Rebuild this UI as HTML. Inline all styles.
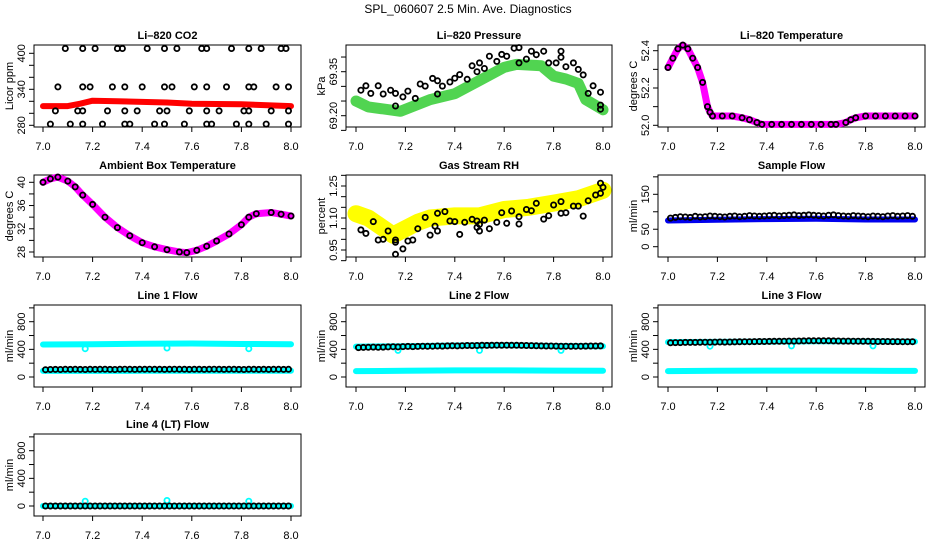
<!DOCTYPE html>
<html><head><meta charset="utf-8"><style>
html,body{margin:0;padding:0;background:#fff}
svg{display:block;font-family:"Liberation Sans",Arial,sans-serif}
</style></head><body>
<svg id="chart" width="936" height="540" viewBox="0 0 936 540">
<text x="468" y="13" text-anchor="middle" font-size="12">SPL_060607  2.5 Min. Ave. Diagnostics</text>
</svg>
<script>
// ---- data ----
const xTicks = [7.0, 7.2, 7.4, 7.6, 7.8, 8.0];
const xTickLabels = ["7.0", "7.2", "7.4", "7.6", "7.8", "8.0"];
const t50 = [7.01,7.03,7.05,7.07,7.09,7.11,7.13,7.15,7.17,7.19,7.21,7.23,7.25,7.27,7.29,7.31,7.33,7.35,7.37,7.39,7.41,7.43,7.45,7.47,7.49,7.51,7.53,7.55,7.57,7.59,7.61,7.63,7.65,7.67,7.69,7.71,7.73,7.75,7.77,7.79,7.81,7.83,7.85,7.87,7.89,7.91,7.93,7.95,7.97,7.99];

// CO2
const co2BandX = [7.0, 7.1, 7.15, 7.2, 7.3, 7.5, 7.6, 7.8, 8.0];
const co2BandY = [312, 312, 316, 321, 320, 318, 316, 315, 312];
const co2PtX = [7.09,7.16,7.21,7.30,7.32,7.42,7.49,7.54,7.64,7.66,7.76,7.83,7.88,7.96,7.98,
 7.06,7.16,7.19,7.28,7.33,7.40,7.49,7.52,7.61,7.66,7.74,7.83,7.85,7.94,7.99,
 7.05,7.14,7.16,7.26,7.33,7.38,7.47,7.50,7.59,7.66,7.71,7.81,7.83,7.92,7.99,
 7.03,7.11,7.16,7.24,7.33,7.35,7.45,7.49,7.57,7.66,7.68,7.78,7.83,7.90,7.99];
const co2PtY = [408,408,408,408,408,408,408,408,408,408,408,408,408,408,408,
 344,344,344,344,344,344,344,344,344,344,344,344,344,344,344,
 304,304,304,304,304,304,304,304,304,304,304,304,304,304,304,
 282,282,282,282,282,282,282,282,282,282,282,282,282,282,282];

// Pressure
const presBandX = [7.0, 7.05, 7.18, 7.3, 7.4, 7.5, 7.6, 7.65, 7.75, 7.8, 7.85, 7.9, 7.93, 8.0];
const presBandY = [69.25, 69.23, 69.215, 69.255, 69.275, 69.32, 69.365, 69.375, 69.37, 69.335, 69.325, 69.31, 69.255, 69.22];
const presPtX = [7.02,7.04,7.06,7.09,7.11,7.14,7.16,7.16,7.19,7.21,7.24,7.26,7.28,7.31,7.33,7.33,7.35,7.38,7.40,7.42,7.45,7.47,7.49,7.50,7.52,7.54,7.57,7.59,7.61,7.64,7.66,7.66,7.69,7.71,7.73,7.76,7.78,7.81,7.83,7.83,7.85,7.88,7.90,7.92,7.94,7.96,7.99,7.99,7.99];
const presPtY = [69.287,69.302,69.276,69.302,69.274,69.287,69.276,69.233,69.264,69.284,69.259,69.308,69.301,69.327,69.319,69.274,69.301,69.315,69.328,69.34,69.324,69.37,69.35,69.38,69.361,69.403,69.385,69.409,69.403,69.43,69.432,69.38,69.393,69.42,69.408,69.42,69.38,69.38,69.42,69.399,69.367,69.38,69.358,69.339,69.276,69.302,69.28,69.236,69.222];

// Li-820 temperature
const tempX = [7.0,7.02,7.04,7.06,7.08,7.1,7.12,7.14,7.16,7.17,7.18,7.22,7.26,7.3,7.33,7.36,7.38,7.42,7.46,7.5,7.54,7.58,7.62,7.66,7.68,7.72,7.74,7.76,7.8,7.84,7.88,7.92,7.96,8.0];
const tempY = [52.31,52.36,52.41,52.43,52.41,52.36,52.31,52.23,52.1,52.07,52.05,52.05,52.05,52.04,52.03,52.015,52.005,52.005,52.005,52.005,52.005,52.005,52.005,52.005,52.005,52.015,52.03,52.04,52.05,52.05,52.05,52.05,52.05,52.05];

// Ambient box temperature
const ambX = [7.0,7.03,7.06,7.1,7.13,7.16,7.2,7.25,7.3,7.35,7.4,7.45,7.5,7.55,7.58,7.62,7.66,7.7,7.75,7.8,7.83,7.86,7.92,7.96,8.0];
const ambY = [40.0,40.6,40.9,40.2,39.2,37.8,36.2,34.0,32.2,30.8,29.6,28.9,28.4,28.0,27.9,28.3,29.0,29.9,31.1,32.7,34.0,34.6,34.8,34.5,34.2];

// Gas stream RH
const rhBandX = [7.0,7.05,7.1,7.15,7.2,7.25,7.3,7.4,7.5,7.6,7.7,7.8,7.9,8.0];
const rhBandY = [1.12,1.10,1.06,1.02,1.05,1.08,1.10,1.11,1.11,1.14,1.15,1.17,1.19,1.23];
const rhPtX = [7.02,7.04,7.07,7.09,7.11,7.13,7.16,7.16,7.16,7.19,7.21,7.23,7.25,7.28,7.30,7.32,7.33,7.33,7.36,7.38,7.40,7.42,7.44,7.47,7.49,7.49,7.50,7.50,7.52,7.54,7.57,7.59,7.61,7.63,7.66,7.66,7.69,7.71,7.73,7.76,7.78,7.80,7.83,7.83,7.85,7.88,7.90,7.92,7.94,7.97,7.99,7.99,8.0];
const rhPtY = [1.044,1.028,1.083,0.997,1.0,1.039,0.997,0.986,0.93,0.955,0.992,0.997,1.05,1.103,1.02,1.062,1.039,1.122,1.13,1.086,1.083,1.023,1.08,1.094,1.086,1.056,1.039,1.07,1.09,1.05,1.08,1.125,1.075,1.133,1.106,1.072,1.14,1.134,1.169,1.095,1.111,1.161,1.177,1.122,1.125,1.156,1.156,1.109,1.181,1.208,1.263,1.216,1.244];

// Sample flow
const sfBandX = [7.0, 7.2, 7.4, 7.6, 7.8, 8.0];
const sfBandY = [75, 77, 79, 80, 78, 78];
const sfBlack = [82,84,86,85,84,87,85,86,88,87,86,85,87,88,86,87,89,88,87,88,89,90,88,89,90,91,89,90,91,90,89,88,90,91,89,88,87,89,88,87,86,88,87,86,88,89,87,88,89,87];

// Line flows
const flowBandX = [7.0, 7.2, 7.4, 7.6, 7.8, 8.0];
const l1High = [470, 475, 480, 485, 478, 475];
const l1Low = [88, 88, 90, 90, 90, 90];
const l1Black = [105,108,110,109,111,110,112,110,109,111,110,112,111,110,109,111,113,112,110,111,112,113,112,111,110,112,113,112,111,110,112,111,110,112,113,111,110,112,111,110,109,111,112,110,111,110,112,111,110,111];
const l2High = [440, 445, 455, 460, 448, 445];
const l2Low = [85, 90, 95, 95, 92, 90];
const l2Black = [425,428,430,432,430,433,435,438,436,440,442,440,443,445,444,446,448,447,450,452,450,453,455,454,456,458,457,459,460,458,460,459,458,457,455,454,452,450,449,448,447,446,445,444,445,446,447,448,449,450];
const l3High = [505, 508, 512, 518, 515, 512];
const l3Low = [85, 90, 92, 92, 90, 88];
const l3Black = [495,497,498,500,501,500,502,503,504,505,506,505,507,508,509,510,511,512,513,514,515,516,517,518,519,520,521,522,523,523,524,524,523,522,521,520,519,518,518,517,516,515,514,514,513,512,512,511,510,510];
const l4Low = [0, 0, 0, 0, 0, 0];
const l4Black = [0,0,0,0,0,0,0,0,0,0,0,0,0,0,0,0,0,0,0,0,0,0,0,0,0,0,0,0,0,0,0,0,0,0,0,0,0,0,0,0,0,0,0,0,0,0,0,0,0,0];
const dipX = [7.17, 7.5, 7.83];
const l1Dip = [410, 420, 410];
const l2Dip = [385, 385, 385];
const l3Dip = [445, 450, 450];
const l4Spike = [70, 80, 70];

// ---- layout ----
const NS = "http://www.w3.org/2000/svg";
const svg = document.getElementById("chart");
const colLeft = [34, 346, 658], colRight = [301, 612, 925];
const colX0 = [43, 356, 668], colX1 = [291, 603, 915];
const rowTop = [45, 175, 305, 434];
const BOXH = 82;

function el(tag, attrs, parent) {
  const e = document.createElementNS(NS, tag);
  for (const k in attrs) e.setAttribute(k, attrs[k]);
  (parent || svg).appendChild(e);
  return e;
}

function makePanel(cfg) {
  const g = el("g", {});
  
  
  const L = colLeft[cfg.col], R = colRight[cfg.col], T = rowTop[cfg.row], B = T + BOXH;
  const x0 = colX0[cfg.col], x1 = colX1[cfg.col];
  const sx = v => x0 + (v - 7.0) / 1.0 * (x1 - x0);
  const sy = v => T + cfg.p0 + (v - cfg.v0) / (cfg.v1 - cfg.v0) * (cfg.p1 - cfg.p0);
  const box = el("rect", {x: L, y: T, width: R - L, height: BOXH, fill: "none", stroke: "#000", "stroke-width": 1}, g);
  
  
  const title = el("text", {x: (L + R) / 2, y: T - 6, "text-anchor": "middle", "font-size": 11, "font-weight": "bold"}, g);
  title.textContent = cfg.title;
  
  
  const xa = el("g", {}, g);
  
  
  el("line", {x1: sx(xTicks[0]), x2: sx(xTicks[xTicks.length - 1]), y1: B, y2: B, stroke: "#000"}, xa);
  xTicks.forEach((v, i) => {
    el("line", {x1: sx(v), x2: sx(v), y1: B, y2: B + 5, stroke: "#000"}, xa);
    const t = el("text", {x: sx(v), y: B + 23, "text-anchor": "middle", "font-size": 11}, xa);
    t.textContent = xTickLabels[i];
    
    
  });
  const ya = el("g", {}, g);
  
  
  const yt = cfg.ticks;
  el("line", {x1: L, x2: L, y1: sy(yt[0]), y2: sy(yt[yt.length - 1]), stroke: "#000"}, ya);
  yt.forEach(v => {
    el("line", {x1: L - 5, x2: L, y1: sy(v), y2: sy(v), stroke: "#000"}, ya);
  });
  cfg.labels.forEach((lab, i) => {
    const y = sy(cfg.labelVals[i]);
    const t = el("text", {x: 0, y: 0, "text-anchor": "middle", "font-size": 11, transform: `translate(${L - 9},${y}) rotate(-90)`}, ya);
    t.textContent = lab;
    
    
  });
  const yl = el("text", {x: 0, y: 0, "text-anchor": "middle", "font-size": 11, transform: `translate(${L - 21},${T + BOXH / 2}) rotate(-90)`}, g);
  yl.textContent = cfg.ylab;
  
  
  return {g, sx, sy};
}

function band(p, xs, ys, color, w, name, op) {
  const pts = xs.map((x, i) => p.sx(x).toFixed(1) + "," + p.sy(ys[i]).toFixed(1)).join(" ");
  const pl = el("polyline", {points: pts, fill: "none", stroke: color, "stroke-width": w, "stroke-linecap": "round", "stroke-linejoin": "round", "stroke-opacity": op || 1}, p.g);
  
  
}
function points(p, xs, ys, color, name, r) {
  const gg = el("g", {}, p.g);
  
  
  xs.forEach((x, i) => {
    const c = el("circle", {cx: p.sx(x).toFixed(1), cy: p.sy(ys[i]).toFixed(1), r: r || 2.6, fill: "none", stroke: color, "stroke-width": 1.8}, gg);
    
    
  });
}

let p = makePanel({name: "co2-panel", col: 0, row: 0, title: "Li\u2013820 CO2", ylab: "Licor ppm", v0: 280, p0: 80.3, v1: 400, p1: 8.3,
  ticks: [280, 300, 320, 340, 360, 380, 400], labels: ["280", "340", "400"], labelVals: [280, 340, 400]});
band(p, co2BandX, co2BandY, "#ff0000", 6, "co2-band");
points(p, co2PtX, co2PtY, "#000", "co2-points");

p = makePanel({name: "pressure-panel", col: 1, row: 0, title: "Li\u2013820 Pressure", ylab: "kPa", v0: 69.20, p0: 70.7, v1: 69.35, p1: 26.7,
  ticks: [69.15, 69.20, 69.25, 69.30, 69.35, 69.40], labels: ["69.20", "69.35"], labelVals: [69.20, 69.35]});
band(p, presBandX, presBandY, "#33cc33", 11, "pressure-band", 0.85);
points(p, presPtX, presPtY, "#000", "pressure-points");

p = makePanel({name: "li820-temp-panel", col: 2, row: 0, title: "Li\u2013820 Temperature", ylab: "degrees C", v0: 52.0, p0: 80.3, v1: 52.4, p1: 5.7,
  ticks: [52.0, 52.1, 52.2, 52.3, 52.4], labels: ["52.0", "52.2", "52.4"], labelVals: [52.0, 52.2, 52.4]});
band(p, tempX, tempY, "#ff00ff", 7, "temp-band");
points(p, tempX, tempY, "#000", "temp-points");

p = makePanel({name: "ambient-temp-panel", col: 0, row: 1, title: "Ambient Box Temperature", ylab: "degrees C", v0: 28, p0: 77, v1: 40, p1: 7.3,
  ticks: [28, 30, 32, 34, 36, 38, 40], labels: ["28", "32", "36", "40"], labelVals: [28, 32, 36, 40]});
band(p, ambX, ambY, "#ff00ff", 7, "ambient-band");
points(p, ambX, ambY, "#000", "ambient-points");

p = makePanel({name: "rh-panel", col: 1, row: 1, title: "Gas Stream RH", ylab: "percent", v0: 0.95, p0: 75, v1: 1.25, p1: 11,
  ticks: [0.90, 0.95, 1.00, 1.05, 1.10, 1.15, 1.20, 1.25, 1.30], labels: ["0.95", "1.10", "1.25"], labelVals: [0.95, 1.10, 1.25]});
band(p, rhBandX, rhBandY, "#ffff00", 17, "rh-band");
points(p, rhPtX, rhPtY, "#000", "rh-points");

p = makePanel({name: "sample-flow-panel", col: 2, row: 1, title: "Sample Flow", ylab: "ml/min", v0: 0, p0: 71.7, v1: 150, p1: 19.3,
  ticks: [0, 50, 100, 150, 200], labels: ["0", "50", "150"], labelVals: [0, 50, 150]});
band(p, sfBandX, sfBandY, "#0000ee", 6, "sample-flow-band");
points(p, t50, sfBlack, "#000", "sample-flow-points");

const flowCfg = {v0: 0, p0: 72, v1: 800, p1: 16.7, ticks: [0, 200, 400, 600, 800, 1000], labels: ["0", "400", "800"], labelVals: [0, 400, 800], ylab: "ml/min"};
p = makePanel(Object.assign({name: "line1-flow-panel", col: 0, row: 2, title: "Line 1 Flow"}, flowCfg));
band(p, flowBandX, l1High, "#00ffff", 6, "line1-cyan-high");
band(p, flowBandX, l1Low, "#00ffff", 6, "line1-cyan-low");
points(p, dipX, l1Dip, "#00ffff", "line1-dips");
points(p, t50, l1Black, "#000", "line1-points");
p = makePanel(Object.assign({name: "line2-flow-panel", col: 1, row: 2, title: "Line 2 Flow"}, flowCfg));
band(p, flowBandX, l2High, "#00ffff", 6, "line2-cyan-high");
band(p, flowBandX, l2Low, "#00ffff", 6, "line2-cyan-low");
points(p, dipX, l2Dip, "#00ffff", "line2-dips");
points(p, t50, l2Black, "#000", "line2-points");
p = makePanel(Object.assign({name: "line3-flow-panel", col: 2, row: 2, title: "Line 3 Flow"}, flowCfg));
band(p, flowBandX, l3High, "#00ffff", 6, "line3-cyan-high");
band(p, flowBandX, l3Low, "#00ffff", 6, "line3-cyan-low");
points(p, dipX, l3Dip, "#00ffff", "line3-dips");
points(p, t50, l3Black, "#000", "line3-points");
p = makePanel(Object.assign({name: "line4-flow-panel", col: 0, row: 3, title: "Line 4 (LT) Flow"}, flowCfg));
band(p, flowBandX, l4Low, "#00ffff", 6, "line4-cyan");
points(p, dipX, l4Spike, "#00ffff", "line4-spikes");
points(p, t50, l4Black, "#000", "line4-points");
</script>
</body></html>
